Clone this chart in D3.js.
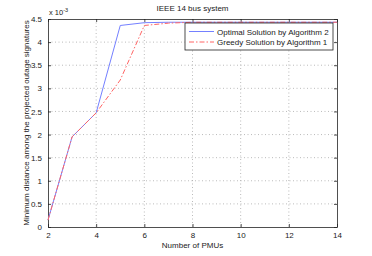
<!DOCTYPE html>
<html>
<head>
<meta charset="utf-8">
<script src="https://cdn.jsdelivr.net/npm/d3@7"></script>
<style>
  body { margin: 0; background: #fff; }
  text { font-family: "Liberation Sans", Arial, sans-serif; fill: #222; }
</style>
</head>
<body>
<div id="chart"></div>
<script>
// data (y values in units of 1e-3)
var pmus = [2, 3, 4, 5, 6, 7, 8, 9, 10, 11, 12, 13, 14];
var optimal = [0.15, 1.95, 2.47, 4.36, 4.42, 4.43, 4.43, 4.43, 4.43, 4.43, 4.43, 4.43, 4.43];
var greedy = [0.15, 1.95, 2.47, 3.18, 4.36, 4.41, 4.43, 4.43, 4.43, 4.43, 4.43, 4.43, 4.43];
var xTicks = [2, 4, 6, 8, 10, 12, 14];
var yTicks = [0, 0.5, 1, 1.5, 2, 2.5, 3, 3.5, 4, 4.5];
var seriesNames = ["Optimal Solution by Algorithm 2", "Greedy Solution by Algorithm 1"];

var svgWidth = 372, svgHeight = 256;
var margin = {top: 19, right: 35, bottom: 29, left: 48};
var width = svgWidth - margin.left - margin.right;
var height = svgHeight - margin.top - margin.bottom;

var svg = d3.select("#chart").append("svg")
    .attr("width", svgWidth)
    .attr("height", svgHeight);

var chartGroup = svg.append("g")
    .attr("transform", `translate(${margin.left}, ${margin.top})`);

var x = d3.scaleLinear().domain([2, 14]).range([0, width]);
var y = d3.scaleLinear().domain([0, 4.5]).range([height, 0]);

// grid
chartGroup.append("g").selectAll("line").data(xTicks.slice(1, -1)).enter().append("line")
    .attr("x1", d => x(d)).attr("x2", d => x(d))
    .attr("y1", 0).attr("y2", height)
    .attr("stroke", "#aaa").attr("stroke-width", 0.8).attr("stroke-dasharray", "1,2.5");
chartGroup.append("g").selectAll("line").data(yTicks.slice(1, -1)).enter().append("line")
    .attr("y1", d => y(d)).attr("y2", d => y(d))
    .attr("x1", 0).attr("x2", width)
    .attr("stroke", "#aaa").attr("stroke-width", 0.8).attr("stroke-dasharray", "1,2.5");

// axes, matlab style: ticks inside, box all round
var bottomAxis = d3.axisBottom(x).tickValues(xTicks).tickSizeInner(-3).tickSizeOuter(0).tickPadding(5);
var leftAxis = d3.axisLeft(y).tickValues(yTicks).tickSizeInner(-3).tickSizeOuter(0).tickPadding(6).tickFormat(d3.format("~g"));
var topAxis = d3.axisTop(x).tickValues(xTicks).tickSizeInner(-3).tickSizeOuter(0).tickFormat("");
var rightAxis = d3.axisRight(y).tickValues(yTicks).tickSizeInner(-3).tickSizeOuter(0).tickFormat("");

chartGroup.append("g").attr("transform", `translate(0, ${height})`).call(bottomAxis);
chartGroup.append("g").call(leftAxis);
chartGroup.append("g").call(topAxis);
chartGroup.append("g").attr("transform", `translate(${width}, 0)`).call(rightAxis);
chartGroup.selectAll(".tick text").attr("font-size", 8).attr("font-family", "Liberation Sans, Arial, sans-serif").attr("fill", "#222");
chartGroup.selectAll(".domain, .tick line").attr("stroke", "#222").attr("stroke-width", 0.8);

// lines
var line = d3.line().x((d, i) => x(pmus[i])).y(d => y(d));
chartGroup.append("path").datum(optimal)
    .attr("d", line).attr("fill", "none")
    .attr("stroke", "#7480ff").attr("stroke-width", 1);
chartGroup.append("path").datum(greedy)
    .attr("d", line).attr("fill", "none")
    .attr("stroke", "#ff6464").attr("stroke-width", 1)
    .attr("stroke-dasharray", "5,2,1.5,2");

// legend
var legend = chartGroup.append("g").attr("transform", "translate(137, 4)");
legend.append("rect").attr("width", 148).attr("height", 27)
    .attr("fill", "#fff").attr("stroke", "#222").attr("stroke-width", 0.8);
legend.append("line").attr("x1", 4).attr("x2", 29).attr("y1", 8.5).attr("y2", 8.5)
    .attr("stroke", "#7480ff").attr("stroke-width", 1);
legend.append("line").attr("x1", 4).attr("x2", 29).attr("y1", 19).attr("y2", 19)
    .attr("stroke", "#ff6464").attr("stroke-width", 1).attr("stroke-dasharray", "5,2,1.5,2");
legend.selectAll("text.lab").data(seriesNames).enter().append("text")
    .attr("class", "lab")
    .attr("x", 32).attr("y", (d, i) => 11.5 + i * 10.5)
    .attr("font-size", 8)
    .text(d => d);

// title, exponent, axis labels
svg.append("text")
    .attr("x", margin.left + width / 2).attr("y", 11)
    .attr("text-anchor", "middle").attr("font-size", 8)
    .text("IEEE 14 bus system");

var expo = svg.append("text").attr("x", margin.left + 1).attr("y", 15).attr("font-size", 7.5);
expo.append("tspan").text("x 10");
expo.append("tspan").attr("dy", -3).attr("font-size", 5.5).text("-3");

svg.append("text")
    .attr("x", margin.left + width / 2).attr("y", 248)
    .attr("text-anchor", "middle").attr("font-size", 8)
    .text("Number of PMUs");

svg.append("text")
    .attr("transform", `translate(29, ${margin.top + height / 2}) rotate(-90)`)
    .attr("text-anchor", "middle").attr("font-size", 8)
    .text("Minimum distance among the projected outage signatures");
</script>
</body>
</html>
